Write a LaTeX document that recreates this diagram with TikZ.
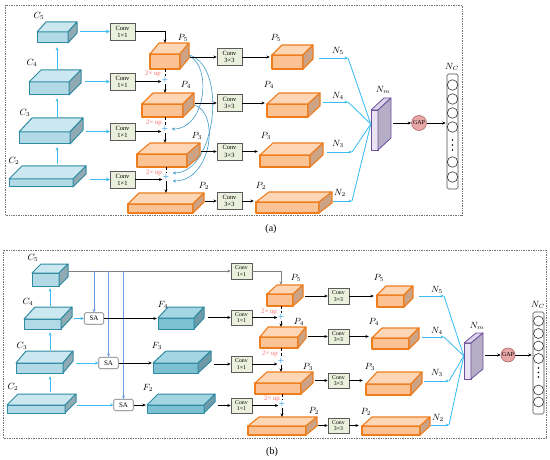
\documentclass[tikz,border=0pt]{standalone}
\usepackage{fontspec}
\setmainfont{Liberation Serif}
\usetikzlibrary{arrows.meta,fit}
\definecolor{cfr}{HTML}{B2DAE6}
\definecolor{ctp}{HTML}{CBE7EF}
\definecolor{csd}{HTML}{8FAAB3}
\definecolor{cbd}{HTML}{2F8BA3}
\definecolor{ffr}{HTML}{7DC0D2}
\definecolor{ftp}{HTML}{A4D5E2}
\definecolor{fsd}{HTML}{6E9BA7}
\definecolor{pfr}{HTML}{FBC293}
\definecolor{ptp}{HTML}{FDD6B5}
\definecolor{psd}{HTML}{CDA386}
\definecolor{pbd}{HTML}{EE7D1E}
\definecolor{nfr}{HTML}{E9E3F3}
\definecolor{ntp}{HTML}{DCD4EA}
\definecolor{nsd}{HTML}{B5AEC6}
\definecolor{nbd}{HTML}{6E4F9C}
\definecolor{cvf}{HTML}{EBF0DC}
\definecolor{cvb}{HTML}{5A5A5A}
\definecolor{cyanl}{HTML}{3CBDF2}
\definecolor{crvc}{HTML}{4A9ECB}
\definecolor{bluel}{HTML}{6A9BE0}
\definecolor{upc}{HTML}{FF6F6F}
\definecolor{plc}{HTML}{2E9BE6}
\definecolor{gapf}{HTML}{E8A7A7}
\definecolor{gapbd}{HTML}{B06666}
\newcommand\cuboid[8]{%
  \filldraw[#2 front] (#3,#4) rectangle (#5,#6);
  \filldraw[#2 top] (#3,#4) -- ++(#7,-#8) -- ++({#5-#3},0) -- (#5,#4) -- cycle;
  \filldraw[#2 side] (#5,#4) -- ++(#7,-#8) -- ++(0,{#6-#4}) -- (#5,#6) -- cycle;
  \node[fit={(#3,{#4-#8}) ({#5+#7},#6)}, inner sep=0pt] (#1) {};
}
\tikzset{
  bx/.style={line width=1pt, line join=round},
  cb front/.style={bx, fill=cfr, draw=cbd},
  cb top/.style={bx, fill=ctp, draw=cbd},
  cb side/.style={bx, fill=csd, draw=cbd},
  fb front/.style={bx, fill=ffr, draw=cbd},
  fb top/.style={bx, fill=ftp, draw=cbd},
  fb side/.style={bx, fill=fsd, draw=cbd},
  pb front/.style={bx, line width=1.1pt, fill=pfr, draw=pbd},
  pb top/.style={bx, line width=1.1pt, fill=ptp, draw=pbd},
  pb side/.style={bx, line width=1.1pt, fill=psd, draw=pbd},
  nb front/.style={bx, line width=0.8pt, fill=nfr, draw=nbd},
  nb top/.style={bx, line width=0.8pt, fill=ntp, draw=nbd},
  nb side/.style={bx, line width=0.8pt, fill=nsd, draw=nbd},
  arr/.style={-{Stealth[length=3.4pt,width=3pt]}},
  blk/.style={black, line width=0.6pt, arr},
  blkl/.style={black, line width=0.6pt},
  cyth/.style={cyanl, line width=1.5pt, -{Stealth[length=3.8pt,width=4pt]}},
  cyn/.style={cyanl, line width=0.85pt},
  cya/.style={cyanl, line width=0.85pt, arr},
  crv/.style={crvc, line width=0.65pt, arr},
  bll/.style={bluel, line width=0.65pt, arr},
  gryl/.style={black!50, line width=0.9pt},
  lbl/.style={inner sep=0pt, font=\fontsize{9}{10}\selectfont},
  conv/.style={draw=cvb, fill=cvf, line width=0.5pt, minimum width=25pt, minimum height=17pt, inner sep=0pt, align=center, font=\fontsize{6.4}{7.2}\selectfont},
  convs/.style={conv, minimum width=21pt, minimum height=15.5pt, font=\fontsize{5.8}{6.5}\selectfont},
  sabox/.style={draw=black!55, fill=white, rounded corners=1.5pt, line width=0.6pt, minimum width=19.5pt, minimum height=11.5pt, inner sep=0pt, font=\fontsize{7}{7}\selectfont},
  pls/.style={text=plc, inner sep=0.3pt, font=\fontsize{11}{11}\selectfont},
  upl/.style={text=upc, inner sep=0pt, font=\fontsize{6.8}{7}\selectfont},
  gapc/.style={circle, draw=gapbd, fill=gapf, line width=0.6pt, minimum size=15pt, inner sep=0pt, font=\fontsize{6}{6}\selectfont},
  ncr/.style={draw=black!70, fill=white, rounded corners=1.5pt, line width=0.6pt, inner sep=0pt, minimum width=11pt},
  neu/.style={circle, draw=black!80, fill=white, line width=0.6pt, minimum size=10pt, inner sep=0pt},
  dotn/.style={circle, fill=black, minimum size=1.8pt, inner sep=0pt},
  panelframe/.style={draw=black!55, densely dotted, line width=0.7pt},
  captxt/.style={inner sep=0pt, font=\fontsize{10}{11}\selectfont}
}
\begin{document}
\begin{tikzpicture}[x=1pt,y=-1pt]
\useasboundingbox (0,0) rectangle (550,460);
\draw[panelframe] (5,5) rectangle (462,215);
\draw[panelframe] (3,250) rectangle (546,438);

% ================= TOP PANEL =================
\cuboid{c5a}{cb}{37}{32}{68}{43}{9}{10}
\cuboid{c4a}{cb}{29}{82}{69}{95}{12}{12}
\cuboid{c3a}{cb}{19}{132}{70}{144}{13}{14}
\cuboid{c2a}{cb}{9}{179}{73}{187}{13}{13}
\node[lbl] (lc5a) at (39,16) {$C_5$};
\node[lbl] (lc4a) at (32,63) {$C_4$};
\node[lbl] (lc3a) at (25,113) {$C_3$};
\node[lbl] (lc2a) at (14,161) {$C_2$};
\coordinate (colCa) at (57,0);
\draw[cya, shorten <=2pt, shorten >=3pt] (c2a.north -| colCa) -- (c3a.south -| colCa);
\draw[cya, shorten <=1pt, shorten >=3pt] (c3a.north -| colCa) -- (c4a.south -| colCa);
\draw[cya, shorten <=1pt, shorten >=4pt] (c4a.north -| colCa) -- (c5a.south -| colCa);

\node[conv] (cv5a) at (122.5,31.5) {Conv\\1×1};
\node[conv] (cv4a) at (122.5,81.5) {Conv\\1×1};
\node[conv] (cv3a) at (122.5,131.5) {Conv\\1×1};
\node[conv] (cv2a) at (122.5,179.5) {Conv\\1×1};
\draw[cyth, shorten <=3pt] (c5a.east |- cv5a.west) -- (cv5a.west);
\draw[cyth, shorten <=4pt] (c4a.east |- cv4a.west) -- (cv4a.west);
\draw[cyth, shorten <=3pt] (c3a.east |- cv3a.west) -- (cv3a.west);
\draw[cyth, shorten <=4pt] (c2a.east |- cv2a.west) -- (cv2a.west);

\cuboid{p5a}{pb}{150}{54}{180}{69}{9}{11}
\cuboid{p4a}{pb}{142}{104}{183}{117}{11}{11}
\cuboid{p3a}{pb}{137}{154}{187}{167}{13}{11}
\cuboid{p2a}{pb}{128}{204}{193}{213}{11}{11}
\node[lbl] (lp5a) at (183,38) {$P_5$};
\node[lbl] (lp4a) at (186,85) {$P_4$};
\node[lbl] (lp3a) at (197,136) {$P_3$};
\node[lbl] (lp2a) at (204,186) {$P_2$};

\node[pls] (pl4a) at (165,80) {+};
\node[pls] (pl3a) at (165,129) {+};
\node[pls] (pl2a) at (166,177) {+};
\node[upl] (u4a) at (153,74) {2× up};
\node[upl] (u3a) at (154,123) {2× up};
\node[upl] (u2a) at (154,173) {2× up};

\draw[blk] (cv5a.east) -| (p5a.north -| pl4a);
\draw[blkl, densely dashed] (p5a.south -| pl4a) -- (pl4a.north);
\draw[blk] (pl4a.south) -- (p4a.north -| pl4a);
\draw[blkl, densely dashed] (p4a.south -| pl3a) -- (pl3a.north);
\draw[blk] (pl3a.south) -- (p3a.north -| pl3a);
\draw[blkl, densely dashed] (p3a.south -| pl2a) -- (pl2a.north);
\draw[blk] (pl2a.south) -- (p2a.north -| pl2a);
\draw[blk] (cv4a.east) -- (cv4a.east -| pl4a.west);
\draw[blk] (cv3a.east) -- (cv3a.east -| pl3a.west);
\draw[blk] (cv2a.east) -- (cv2a.east -| pl2a.west);

\draw[crv, shorten >=3pt] (p5a.east) .. controls (212,66) and (206,129) .. (pl3a.east);
\draw[crv, shorten >=3pt] ([yshift=1pt]p5a.east) .. controls (228,66) and (216,173) .. ([yshift=4pt]pl2a.east);
\draw[crv, shorten >=3pt] (p4a.east) .. controls (220,112) and (212,181) .. ([yshift=-4pt]pl2a.east);

\node[conv] (cv5b) at (229.5,57) {Conv\\3×3};
\node[conv] (cv4b) at (229.5,103) {Conv\\3×3};
\node[conv] (cv3b) at (229.5,151.5) {Conv\\3×3};
\node[conv] (cv2b) at (229.5,201) {Conv\\3×3};
\draw[blk, shorten <=1pt] (p5a.east |- cv5b.west) -- (cv5b.west);
\draw[blk, shorten <=1pt] (p4a.east |- cv4b.west) -- (cv4b.west);
\draw[blk, shorten <=1pt] (p3a.east |- cv3b.west) -- (cv3b.west);
\draw[blk, shorten <=1pt] (p2a.east |- cv2b.west) -- (cv2b.west);

\cuboid{p5b}{pb}{272}{55}{303}{69}{10}{10}
\cuboid{p4b}{pb}{267}{104}{308}{117}{12}{11}
\cuboid{p3b}{pb}{260}{155}{310}{167}{13}{12}
\cuboid{p2b}{pb}{256}{202}{319}{213}{13}{10}
\node[lbl] (lp5b) at (276,38) {$P_5$};
\node[lbl] (lp4b) at (269,85) {$P_4$};
\node[lbl] (lp3b) at (266,136) {$P_3$};
\node[lbl] (lp2b) at (261,186) {$P_2$};
\draw[blk, shorten >=2pt] (cv5b.east) -- (p5b.west |- cv5b.east);
\draw[blk, shorten >=2pt] (cv4b.east) -- (p4b.west |- cv4b.east);
\draw[blk, shorten >=2pt] (cv3b.east) -- (p3b.west |- cv3b.east);
\draw[blk, shorten >=2pt] (cv2b.east) -- (p2b.west |- cv2b.east);

\coordinate (n5a) at (348,58);
\coordinate (n4a) at (348,102);
\coordinate (n3a) at (352,152);
\coordinate (n2a) at (352,201);
\draw[cya, shorten <=6pt] (p5b.east |- n5a) -- (n5a);
\draw[cya, shorten <=3pt] (p4b.east |- n4a) -- (n4a);
\draw[cya, shorten <=4pt] (p3b.east |- n3a) -- (n3a);
\draw[cya, shorten <=1pt] (p2b.east |- n2a) -- (n2a);
\node[lbl] (ln5a) at (338,51) {$N_5$};
\node[lbl] (ln4a) at (338,96) {$N_4$};
\node[lbl] (ln3a) at (338,144) {$N_3$};
\node[lbl] (ln2a) at (340,193) {$N_2$};

\cuboid{nma}{nb}{371}{110}{378}{150}{13}{12}
\node[lbl] (lnma) at (383,90) {$N_m$};
\draw[cyn] (n5a) -- (nma.west);
\draw[cyn] (n4a) -- (nma.west);
\draw[cyn] (n3a) -- (nma.west);
\draw[cyn] (n2a) -- (nma.west);

\node[gapc] (gapa) at (419,123) {GAP};
\draw[blk, shorten <=2pt] (nma.east |- gapa.west) -- (gapa.west);
\node[ncr, minimum height=115pt] (nca) at (452.5,131.5) {};
\draw[blk, shorten >=1pt] (gapa.east) -- (nca.west |- gapa.east);
\node[lbl] (lnca) at (452,67) {$N_C$};
\node[neu, minimum size=10.5pt] (na1) at (452.5,85) {};
\node[neu, minimum size=10.5pt] (na2) at (452.5,99) {};
\node[neu, minimum size=10.5pt] (na3) at (452.5,113) {};
\node[neu, minimum size=10.5pt] (na4) at (452.5,127) {};
\node[dotn] (nad1) at (452.5,140) {};
\node[dotn] (nad2) at (452.5,145) {};
\node[dotn] (nad3) at (452.5,150) {};
\node[neu, minimum size=10.5pt] (na5) at (452.5,162) {};
\node[neu, minimum size=10.5pt] (na6) at (452.5,177) {};

\node[captxt] (capa) at (271,229) {(a)};

% ================= BOTTOM PANEL =================
\cuboid{c5b}{cb}{32}{273}{59}{286}{9}{9}
\cuboid{c4b}{cb}{24}{319}{61}{329}{11}{12}
\cuboid{c3b}{cb}{16}{363}{63}{373}{10}{12}
\cuboid{c2b}{cb}{7}{405}{65}{413}{11}{11}
\node[lbl] (lc5b) at (33,258) {$C_5$};
\node[lbl] (lc4b) at (28,302) {$C_4$};
\node[lbl] (lc3b) at (22,346) {$C_3$};
\node[lbl] (lc2b) at (13,387) {$C_2$};
\coordinate (colCb) at (50,0);
\draw[cya, shorten <=2pt, shorten >=3pt] (c2b.north -| colCb) -- (c3b.south -| colCb);
\draw[cya, shorten <=1pt, shorten >=3pt] (c3b.north -| colCb) -- (c4b.south -| colCb);
\draw[cya, shorten <=1pt, shorten >=2pt] (c4b.north -| colCb) -- (c5b.south -| colCb);

\node[convs] (cv5c) at (241.5,271) {Conv\\1×1};
\node[convs] (cv4c) at (241.5,317.5) {Conv\\1×1};
\node[convs] (cv3c) at (241.5,364) {Conv\\1×1};
\node[convs] (cv2c) at (241.5,405.5) {Conv\\1×1};
\draw[gryl, arr] (c5b.east |- cv5c.west) -- (cv5c.west);

\node[sabox] (sa4) at (94,318.5) {SA};
\node[sabox] (sa3) at (108.5,363) {SA};
\node[sabox] (sa2) at (123.5,405) {SA};
\draw[bll] (sa4.north |- cv5c.west) -- (sa4.north);
\draw[bll] (sa3.north |- cv5c.west) -- (sa3.north);
\draw[bll] (sa2.north |- cv5c.west) -- (sa2.north);
\draw[cya, shorten <=2pt] (c4b.east |- sa4.west) -- (sa4.west);
\draw[cya, shorten <=3pt] (c3b.east |- sa3.west) -- (sa3.west);
\draw[cya, shorten <=1pt] (c2b.east |- sa2.west) -- (sa2.west);

\cuboid{f4}{fb}{158}{318}{194}{329}{10}{11}
\cuboid{f3}{fb}{153}{363}{198}{373}{13}{12}
\cuboid{f2}{fb}{147}{405}{204}{413}{11}{11}
\node[lbl] (lf4) at (163,305) {$F_4$};
\node[lbl] (lf3) at (157,346) {$F_3$};
\node[lbl] (lf2) at (148,388) {$F_2$};
\draw[blk, shorten >=1pt] (sa4.east) -- (f4.west |- sa4.east);
\draw[blk, shorten >=1pt] (sa3.east) -- (f3.west |- sa3.east);
\draw[blk, shorten >=1pt] (sa2.east) -- (f2.west |- sa2.east);
\draw[blk, shorten <=4pt] (f4.east |- cv4c.west) -- (cv4c.west);
\draw[blk, shorten <=3pt] (f3.east |- cv3c.west) -- (cv3c.west);
\draw[blk, shorten <=3pt] (f2.east |- cv2c.west) -- (cv2c.west);

\cuboid{p5c}{pb}{267}{294}{293}{306}{10}{9}
\cuboid{p4c}{pb}{260}{337}{298}{348}{8}{10}
\cuboid{p3c}{pb}{255}{383}{301}{394}{12}{11}
\cuboid{p2c}{pb}{248}{426}{306}{435}{11}{9}
\node[lbl] (lp5c) at (296,278) {$P_5$};
\node[lbl] (lp4c) at (299,322) {$P_4$};
\node[lbl] (lp3c) at (308,367) {$P_3$};
\node[lbl] (lp2c) at (314,411) {$P_2$};

\node[pls] (pl4c) at (281,317) {+};
\node[pls] (pl3c) at (281,361) {+};
\node[pls] (pl2c) at (282,404) {+};
\node[upl] (u4c) at (269,312) {2× up};
\node[upl] (u3c) at (270,354) {2× up};
\node[upl] (u2c) at (272,399) {2× up};

\draw[gryl, line width=0.65pt, arr] (cv5c.east) -| (p5c.north -| pl4c);
\draw[blkl, densely dashed] (p5c.south -| pl4c) -- (pl4c.north);
\draw[blk] (pl4c.south) -- (p4c.north -| pl4c);
\draw[blkl, densely dashed] (p4c.south -| pl3c) -- (pl3c.north);
\draw[blk] (pl3c.south) -- (p3c.north -| pl3c);
\draw[blkl, densely dashed] (p3c.south -| pl2c) -- (pl2c.north);
\draw[blk] (pl2c.south) -- (p2c.north -| pl2c);
\draw[blk] (cv4c.east) -- (cv4c.east -| pl4c.west);
\draw[blk] (cv3c.east) -- (cv3c.east -| pl3c.west);
\draw[blk] (cv2c.east) -- (cv2c.east -| pl2c.west);

\node[convs] (cv5d) at (338.5,296) {Conv\\3×3};
\node[convs] (cv4d) at (338.5,336.5) {Conv\\3×3};
\node[convs] (cv3d) at (338.5,380.5) {Conv\\3×3};
\node[convs] (cv2d) at (338.5,425.5) {Conv\\3×3};
\draw[blk, shorten <=2pt] (p5c.east |- cv5d.west) -- (cv5d.west);
\draw[blk, shorten <=2pt] (p4c.east |- cv4d.west) -- (cv4d.west);
\draw[blk, shorten <=2pt] (p3c.east |- cv3d.west) -- (cv3d.west);
\draw[blk, shorten <=1pt] (p2c.east |- cv2d.west) -- (cv2d.west);

\cuboid{p5d}{pb}{377}{295}{404}{307}{9}{9}
\cuboid{p4d}{pb}{372}{338}{409}{349}{10}{10}
\cuboid{p3d}{pb}{366}{384}{411}{395}{11}{12}
\cuboid{p2d}{pb}{362}{426}{420}{435}{10}{9}
\node[lbl] (lp5d) at (379,278) {$P_5$};
\node[lbl] (lp4d) at (374,322) {$P_4$};
\node[lbl] (lp3d) at (370,367) {$P_3$};
\node[lbl] (lp2d) at (366,412) {$P_2$};
\draw[blk, shorten >=3pt] (cv5d.east) -- (p5d.west |- cv5d.east);
\draw[blk, shorten >=3pt] (cv4d.east) -- (p4d.west |- cv4d.east);
\draw[blk, shorten >=3pt] (cv3d.east) -- (p3d.west |- cv3d.east);
\draw[blk, shorten >=3pt] (cv2d.east) -- (p2d.west |- cv2d.east);

\coordinate (n5b) at (444,296);
\coordinate (n4b) at (444,337);
\coordinate (n3b) at (449,381);
\coordinate (n2b) at (449,425);
\draw[cya, shorten <=6pt] (p5d.east |- n5b) -- (n5b);
\draw[cya, shorten <=3pt] (p4d.east |- n4b) -- (n4b);
\draw[cya, shorten <=2pt] (p3d.east |- n3b) -- (n3b);
\draw[cya, shorten <=1pt] (p2d.east |- n2b) -- (n2b);
\node[lbl] (ln5b) at (437,290) {$N_5$};
\node[lbl] (ln4b) at (437,331) {$N_4$};
\node[lbl] (ln3b) at (437,373) {$N_3$};
\node[lbl] (ln2b) at (438,418) {$N_2$};

\cuboid{nmb}{nb}{464}{343}{471}{379}{12}{10}
\node[lbl] (lnmb) at (477,326) {$N_m$};
\draw[cyn] (n5b) -- (nmb.west);
\draw[cyn] (n4b) -- (nmb.west);
\draw[cyn] (n3b) -- (nmb.west);
\draw[cyn] (n2b) -- (nmb.west);

\node[gapc, minimum size=14pt] (gapb) at (508,355) {GAP};
\draw[blk, shorten <=2pt] (nmb.east |- gapb.west) -- (gapb.west);
\node[ncr, minimum height=102pt] (ncb) at (538.5,363) {};
\draw[blk, shorten >=1pt] (gapb.east) -- (ncb.west |- gapb.east);
\node[lbl] (lncb) at (538,305) {$N_C$};
\node[neu] (nb1) at (538.5,321) {};
\node[neu] (nb2) at (538.5,333.5) {};
\node[neu] (nb3) at (538.5,346) {};
\node[neu] (nb4) at (538.5,358.5) {};
\node[dotn] (nbd1) at (538.5,368) {};
\node[dotn] (nbd2) at (538.5,372.5) {};
\node[dotn] (nbd3) at (538.5,377) {};
\node[neu] (nb5) at (538.5,390) {};
\node[neu] (nb6) at (538.5,402) {};

\node[captxt] (capb) at (272,452) {(b)};
\end{tikzpicture}
\end{document}
